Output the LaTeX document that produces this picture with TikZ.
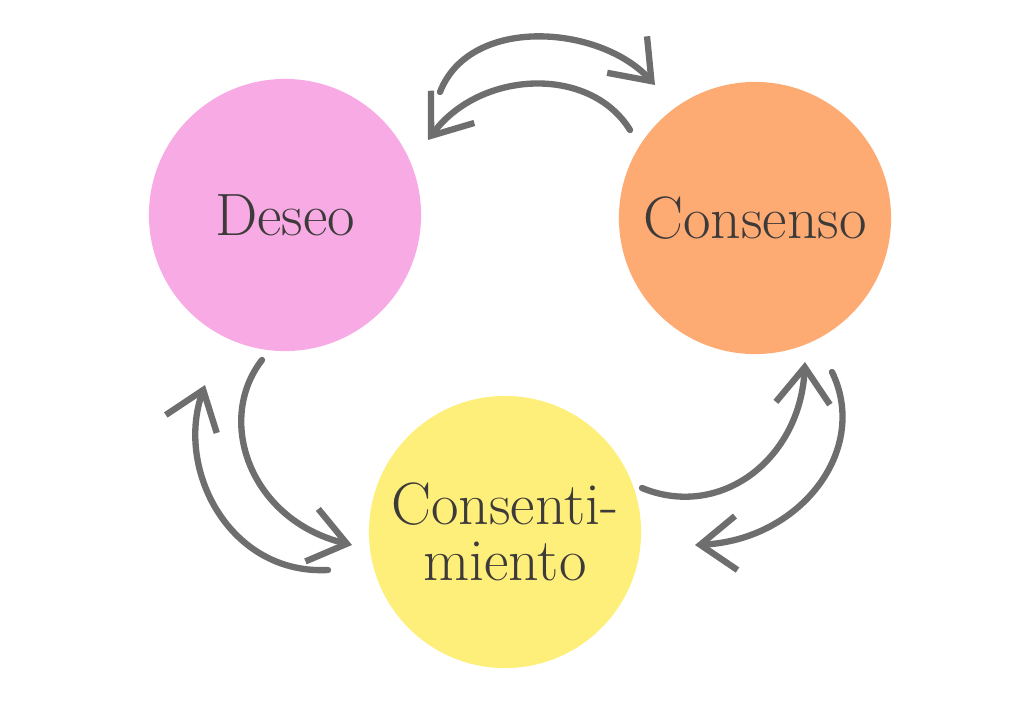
\documentclass[tikz,border=0pt]{standalone}
\usetikzlibrary{arrows.meta}
\usepackage{xcolor}
\definecolor{rosa}{HTML}{F7AAE4}
\definecolor{naranja}{HTML}{FDAA73}
\definecolor{amarillo}{HTML}{FEEF7A}
\definecolor{flecha}{HTML}{6E6E6E}
\definecolor{texto}{HTML}{3D3A3A}
\begin{document}
\begin{tikzpicture}[x=0.01cm, y=-0.01cm]
        % ================= estilos =================
        \tikzset{
            % circulos de color
            blob/.style={circle, minimum size=2.72cm, inner sep=0pt, text=texto,
                         font=\fontsize{17}{18}\selectfont, align=center},
            % flechas grises a mano alzada
            giro/.style={line width=1.8pt, flecha, line cap=round,
                         -{Straight Barb[length=3.6mm, width=5.4mm, line width=1.8pt]}}
        }
        \useasboundingbox (0,0) rectangle (1024,724);

        % ================= circulos =================
        \node[blob, fill=rosa] (deseo) at (285,215) {Deseo};
        \node[blob, fill=naranja] (consenso) at (755,218) {Consenso};
        \node[blob, fill=amarillo] (consent) at (505,532) {Consenti-\\[-2pt]miento};

        % ================= extremos de las flechas =================
        \coordinate (a1) at (440,92);   \coordinate (b1) at (655,85);
        \coordinate (a2) at (630,130);  \coordinate (b2) at (428,140);
        \coordinate (a3) at (642,488);  \coordinate (b3) at (805,362);
        \coordinate (a4) at (832,372);  \coordinate (b4) at (695,545);
        \coordinate (a5) at (262,360);  \coordinate (b5) at (352,545);
        \coordinate (a6) at (328,570);  \coordinate (b6) at (205,385);

        % arriba: deseo <-> consenso
        \draw[giro] (a1) .. controls (470,15) and (600,25) .. (b1);
        \draw[giro] (a2) .. controls (590,65) and (480,70) .. (b2);
        % derecha: consentimiento <-> consenso
        \draw[giro] (a3) .. controls (720,520) and (800,460) .. (b3);
        \draw[giro] (a4) .. controls (870,450) and (800,540) .. (b4);
        % izquierda: deseo <-> consentimiento
        \draw[giro] (a5) .. controls (215,420) and (250,520) .. (b5);
        \draw[giro] (a6) .. controls (230,575) and (175,470) .. (b6);

    \end{tikzpicture}
\end{document}
